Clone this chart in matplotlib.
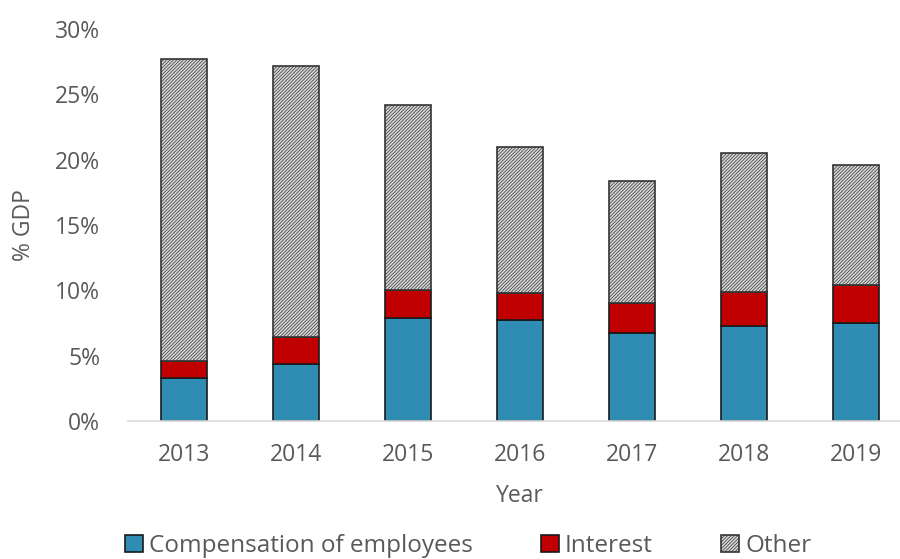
import numpy as np
import matplotlib.pyplot as plt

plt.rcParams['font.family'] = ['Open Sans', 'DejaVu Sans']
plt.rcParams['hatch.color'] = '#acacac'
plt.rcParams['hatch.linewidth'] = 0.5

years = ['2013', '2014', '2015', '2016', '2017', '2018', '2019']
compensation = [3.3, 4.4, 7.9, 7.7, 6.7, 7.3, 7.5]
interest = [1.3, 2.0, 2.15, 2.1, 2.3, 2.6, 2.9]
other = [23.1, 20.8, 14.15, 11.15, 9.4, 10.6, 9.2]

text_col = '#595959'

fig = plt.figure(figsize=(9, 5.59), dpi=100)
ax = fig.add_axes([128/900, 1-421/559, 784/900, 392/559])

x = np.arange(len(years))
w = 0.41
comp = np.array(compensation)
intr = np.array(interest)
oth = np.array(other)

b1 = ax.bar(x, comp, w, color='#2f8cb2', edgecolor='#1a1a1a', linewidth=1.2,
            label='Compensation of employees')
b2 = ax.bar(x, intr, w, bottom=comp, color='#c00000', edgecolor='#1a1a1a',
            linewidth=1.2, label='Interest')
b3 = ax.bar(x, oth, w, bottom=comp + intr, color='#d6d6d6', edgecolor='#333333',
            linewidth=1.2, hatch='//////////', label='Other')

ax.set_xlim(-0.5, len(years) - 0.5)
ax.set_ylim(0, 30)
ax.set_yticks(np.arange(0, 31, 5))
ax.set_yticklabels([f'{v}%' for v in range(0, 31, 5)])
ax.set_xticks(x)
ax.set_xticklabels(years)

for s in ['top', 'right', 'left']:
    ax.spines[s].set_visible(False)
ax.spines['bottom'].set_color('#d9d9d9')
ax.spines['bottom'].set_linewidth(1.2)
ax.tick_params(axis='both', length=0, labelsize=16.5, colors=text_col)
ax.tick_params(axis='x', pad=16)
ax.tick_params(axis='y', pad=20)

ax.set_xlabel('Year', fontsize=16.5, color=text_col, labelpad=12)
ax.set_ylabel('% GDP', fontsize=16.5, color=text_col, labelpad=14)

fig.legend(handles=[b1, b2, b3], loc='center', bbox_to_anchor=(468/900, 1-546/559),
           ncol=3, frameon=False, fontsize=17.5, labelcolor=text_col,
           handlelength=0.75, handleheight=0.75, handletextpad=0.25,
           columnspacing=2.8, borderaxespad=0)

fig.savefig('out.png', dpi=100)
